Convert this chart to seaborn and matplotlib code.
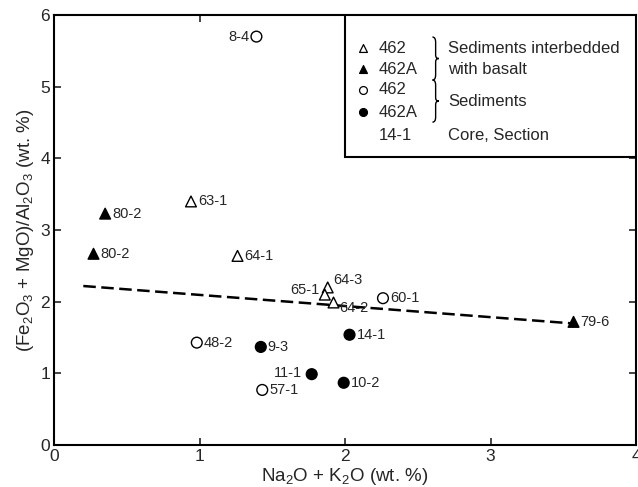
import matplotlib
matplotlib.use("Agg")
import matplotlib.pyplot as plt
from matplotlib.path import Path
from matplotlib.patches import PathPatch
import pandas as pd
import seaborn as sns

# sample data
labels = ["8-4", "80-2", "80-2", "63-1", "64-1", "64-3", "65-1", "64-2",
          "60-1", "79-6", "14-1", "10-2", "11-1", "57-1", "48-2", "9-3"]
alkali = [1.39, 0.35, 0.27, 0.94, 1.26, 1.88, 1.86, 1.92,
          2.26, 3.57, 2.03, 1.99, 1.77, 1.43, 0.98, 1.42]
ratio = [5.70, 3.23, 2.67, 3.40, 2.64, 2.20, 2.10, 1.99,
         2.05, 1.72, 1.54, 0.87, 0.99, 0.77, 1.43, 1.37]
hole = ["462", "462A", "462A", "462", "462", "462", "462", "462",
        "462", "462A", "462A", "462A", "462A", "462", "462", "462A"]
kind = ["sed", "basalt", "basalt", "basalt", "basalt", "basalt", "basalt", "basalt",
        "sed", "basalt", "sed", "sed", "sed", "sed", "sed", "sed"]

trend_x = [0.2, 3.55]
trend_y = [2.22, 1.70]

legend_holes = ["462", "462A", "462", "462A"]
legend_groups = ["Sediments interbedded\nwith basalt", "Sediments"]

df = pd.DataFrame({"x": alkali, "y": ratio, "label": labels,
                   "hole": hole, "kind": kind})

sns.set_theme(style="ticks")
plt.rcParams["font.family"] = ["Liberation Sans", "DejaVu Sans"]
plt.rcParams["mathtext.fontset"] = "custom"
plt.rcParams["mathtext.rm"] = "Liberation Sans"
plt.rcParams["mathtext.it"] = "Liberation Sans:italic"

fig = plt.figure(figsize=(6.38, 4.87), dpi=100)
ax = fig.add_axes([0.085, 0.086, 0.912, 0.883])

sns.lineplot(x=trend_x, y=trend_y, ax=ax, color="black", lw=1.8,
             linestyle=(0, (5, 2.2)))

sns.scatterplot(data=df, x="x", y="y", hue="hole", style="kind",
                palette={"462": "white", "462A": "black"},
                markers={"basalt": "^", "sed": "o"},
                edgecolor="black", linewidth=1.0, s=60, legend=False,
                ax=ax, zorder=3)

# label placement (points offset)
offsets = {0: (-5, 0, "right"), 6: (-4, 3, "right"), 12: (-7, 1, "right"),
           5: (4, 5, "left"), 7: (4, -4, "left")}
for i, (x, y, lab) in enumerate(zip(alkali, ratio, labels)):
    dx, dy, ha = offsets.get(i, (5, 0, "left"))
    ax.annotate(lab, (x, y), xytext=(dx, dy), textcoords="offset points",
                ha=ha, va="center", fontsize=10.5)

ax.set_xlim(0, 4)
ax.set_ylim(0, 6)
ax.set_xticks([0, 1, 2, 3, 4])
ax.set_yticks([0, 1, 2, 3, 4, 5, 6])
ax.tick_params(direction="in", length=5, width=1.2, labelsize=12.5,
               top=True, right=True, pad=3)
for s in ax.spines.values():
    s.set_linewidth(1.5)
    s.set_color("black")

ax.set_xlabel(r"Na$_2$O + K$_2$O (wt. %)", fontsize=13.5, labelpad=1)
ax.set_ylabel(r"(Fe$_2$O$_3$ + MgO)/Al$_2$O$_3$ (wt. %)", fontsize=13.5,
              labelpad=3)


def brace(ax, x0, yt, yb, w):
    ym = (yt + yb) / 2
    h = yt - yb
    xm = x0 + w / 2
    verts = [(x0, yt), (xm, yt), (xm, yt - h * 0.12),
             (xm, ym + h * 0.08), (xm, ym), (x0 + w, ym),
             (xm, ym), (xm, ym - h * 0.08),
             (xm, yb + h * 0.12), (xm, yb), (x0, yb)]
    codes = [Path.MOVETO, Path.CURVE3, Path.CURVE3,
             Path.LINETO, Path.CURVE3, Path.CURVE3,
             Path.CURVE3, Path.CURVE3,
             Path.LINETO, Path.CURVE3, Path.CURVE3]
    ax.add_patch(PathPatch(Path(verts, codes), transform=ax.transAxes,
                           fill=False, lw=1.0, color="black", zorder=6))


# legend box drawn by hand
bx0, by0 = 0.50, 0.67
ax.add_patch(plt.Rectangle((bx0, by0), 1 - bx0, 1 - by0, transform=ax.transAxes,
                           facecolor="white", edgecolor="black",
                           lw=1.5, zorder=5))
rows = [0.923, 0.874, 0.826, 0.774, 0.721]
mx, tx, bx, dx_ = 0.531, 0.558, 0.650, 0.677
leg_marks = [("^", "white"), ("^", "black"), ("o", "white"), ("o", "black")]
for (m, fc), ry, h in zip(leg_marks, rows, legend_holes):
    ax.scatter([mx], [ry], marker=m, s=32, facecolor=fc, edgecolor="black",
               lw=0.9, transform=ax.transAxes, zorder=6)
    ax.text(tx, ry, h, transform=ax.transAxes, va="center",
            fontsize=12, zorder=6)
ax.text(tx, rows[4], "14-1", transform=ax.transAxes, va="center",
        fontsize=12, zorder=6)
brace(ax, bx, 0.949, 0.849, 0.011)
brace(ax, bx, 0.849, 0.751, 0.011)
g1a, g1b = legend_groups[0].split("\n")
ax.text(dx_, rows[0], g1a, transform=ax.transAxes, va="center",
        fontsize=12, zorder=6)
ax.text(dx_, rows[1], g1b, transform=ax.transAxes, va="center",
        fontsize=12, zorder=6)
ax.text(dx_, 0.80, legend_groups[1], transform=ax.transAxes, va="center",
        fontsize=12, zorder=6)
ax.text(dx_, rows[4], "Core, Section", transform=ax.transAxes,
        va="center", fontsize=12, zorder=6)

fig.savefig("out.png", dpi=100)
plt.close(fig)
